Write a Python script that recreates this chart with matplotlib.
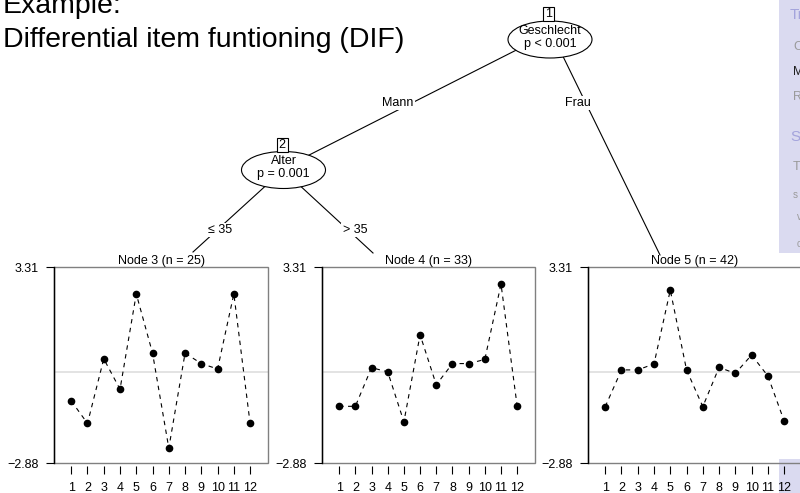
import matplotlib.pyplot as plt
from matplotlib.patches import Ellipse, Rectangle

plt.rcParams['font.family'] = ['Liberation Sans', 'DejaVu Sans']

# item parameters
items = list(range(1, 13))
node3 = [-0.92, -1.63, 0.41, -0.55, 2.46, 0.59, -2.41, 0.59, 0.26, 0.09, 2.46, -1.63]
node4 = [-1.09, -1.09, 0.13, 0.00, -1.58, 1.17, -0.41, 0.26, 0.26, 0.39, 2.77, -1.09]
node5 = [-1.10, 0.06, 0.06, 0.25, 2.58, 0.06, -1.10, 0.14, -0.05, 0.53, -0.13, -1.55]
titles = ['Node 3 (n = 25)', 'Node 4 (n = 33)', 'Node 5 (n = 42)']
ylims = [-2.88, 3.31]
ytick_labels = ['\u22122.88', '3.31']

W, H = 800, 493
fig = plt.figure(figsize=(8, 4.93), dpi=100)


def px_axes(x0, y0, x1, y1):
    return fig.add_axes([x0 / W, 1 - y1 / H, (x1 - x0) / W, (y1 - y0) / H])


# background layer in pixel coordinates (tree, slide text, sidebar)
bg = px_axes(0, 0, W, H)
bg.set_xlim(0, W)
bg.set_ylim(H, 0)
bg.axis('off')
bg.set_zorder(-1)

# beamer sidebar (only its left edge is in the picture)
side = '#dadaf0'
bg.add_patch(Rectangle((779, 0), 30, 253, color=side, lw=0))
bg.add_patch(Rectangle((779, 459), 30, 40, color=side, lw=0))
for x, y, s, c, fs in [(790, 15, 'Tr', '#a4a4dc', 11), (793, 47, 'C', '#9a9a9a', 9),
                       (793, 72, 'M', '#202020', 9), (793, 97, 'R', '#9a9a9a', 9),
                       (790, 137, 'St', '#a4a4dc', 11), (793, 167, 'T', '#9a9a9a', 9),
                       (793, 195, 's', '#9a9a9a', 7), (797, 217, 'v', '#9a9a9a', 7),
                       (797, 244, 'c', '#9a9a9a', 7)]:
    bg.text(x, y, s, color=c, fontsize=fs, va='center', ha='left')

# slide text
bg.text(3, 13, 'Example:', fontsize=20.5, va='baseline')
bg.text(3, 47, 'Differential item funtioning (DIF)', fontsize=20.5, va='baseline')

# tree edges
for (xa, ya), (xb, yb) in [((550, 33), (283.5, 168)), ((555, 40), (660, 255)),
                           ((283, 170), (193, 252)), ((283, 170), (373, 253))]:
    bg.plot([xa, xb], [ya, yb], color='black', lw=0.8, zorder=1)

lab_box = dict(facecolor='white', edgecolor='none', pad=1)
for x, y, s in [(398, 103, 'Mann'), (578, 103, 'Frau'), (220, 230, '\u2264 35'), (355, 230, '> 35')]:
    bg.text(x, y, s, fontsize=9, ha='center', va='center', bbox=lab_box, zorder=3)

# inner nodes
for cx, cy, h, nid, var, p in [(550, 39.5, 37, '1', 'Geschlecht', 'p < 0.001'),
                               (283.5, 170, 37, '2', 'Alter', 'p = 0.001')]:
    bg.add_patch(Ellipse((cx, cy), 84, h, facecolor='white', edgecolor='black', lw=0.8, zorder=2))
    top = cy - h / 2
    bg.add_patch(Rectangle((cx - 7, top - 14), 11, 14, facecolor='white', edgecolor='black', lw=0.8, zorder=3))
    bg.text(cx - 1.5, top - 7, nid, fontsize=9, ha='center', va='center', zorder=4)
    bg.text(cx, cy - 9, var, fontsize=9, ha='center', va='center', zorder=4)
    bg.text(cx, cy + 4.5, p, fontsize=9, ha='center', va='center', zorder=4)

# terminal panels
panels = [(54, 268), (322, 535), (588, 802)]
for (x0, x1), vals, title in zip(panels, [node3, node4, node5], titles):
    ax = px_axes(x0, 267, x1, 463)
    ax.set_facecolor('none')
    ax.axhline(0, color='#e0e0e0', lw=1.3, zorder=1)
    ax.plot(items, vals, color='black', lw=0.8, ls=(0, (4, 4)), zorder=2)
    ax.plot(items, vals, 'o', color='black', ms=4.5, zorder=3)
    ax.set_xlim(-0.06, 13.1)
    ax.set_ylim(*ylims)
    for s in ['top', 'right', 'bottom']:
        ax.spines[s].set_visible(False)
    ax.spines['bottom'].set_position(('outward', 2))
    ax.spines['left'].set_linewidth(1.0)
    ax.add_patch(Rectangle((0, 0), 1, 1, transform=ax.transAxes, fill=False,
                           edgecolor='#808080', lw=1.0, clip_on=False))
    ax.set_xticks(items)
    ax.set_yticks(ylims)
    ax.set_yticklabels(ytick_labels)
    ax.tick_params(axis='x', length=5.5, width=0.8, pad=6, labelsize=9)
    ax.tick_params(axis='y', length=6, width=0.8, pad=5, labelsize=9)
    ax.set_title(title, fontsize=9, pad=1.5)

fig.savefig('out.png', dpi=100)
